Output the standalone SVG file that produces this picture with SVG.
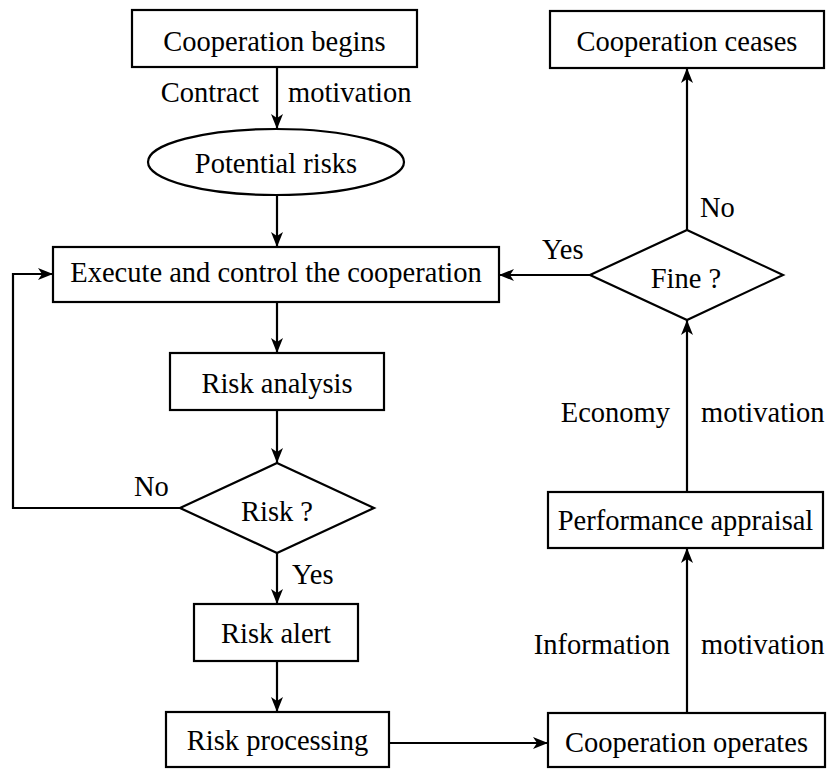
<svg xmlns="http://www.w3.org/2000/svg" width="827" height="769" viewBox="0 0 827 769">
  <style>
    .box { fill: #fff; stroke: #000; stroke-width: 2.2; }
    .lbl { font-family: "Liberation Serif", "Times New Roman", serif; font-size: 28.5px; fill: #000; }
    .mid { text-anchor: middle; }
    .end { text-anchor: end; }
    .edge { fill: none; stroke: #000; stroke-width: 2.2; marker-end: url(#arrow); }
  </style>
  <defs>
    <marker id="arrow" markerUnits="userSpaceOnUse" markerWidth="16" markerHeight="12" refX="15" refY="6" orient="auto">
      <path d="M0,0 L15,6 L0,12 L4,6 z" fill="#000"/>
    </marker>
  </defs>
  <rect width="827" height="769" fill="#fff"/>

  <!-- connectors -->
  <g id="connectors">
    <line class="edge" x1="277" y1="67" x2="277" y2="129"/>
    <line class="edge" x1="277" y1="195" x2="277" y2="247"/>
    <line class="edge" x1="277" y1="302" x2="277" y2="353"/>
    <line class="edge" x1="277" y1="410" x2="277" y2="463"/>
    <line class="edge" x1="277" y1="553" x2="277" y2="604"/>
    <line class="edge" x1="277" y1="661" x2="277" y2="712"/>
    <polyline class="edge" points="180,508 13,508 13,274 53,274"/>
    <line class="edge" x1="389" y1="743" x2="548" y2="743"/>
    <line class="edge" x1="687" y1="713" x2="687" y2="548"/>
    <line class="edge" x1="687" y1="492" x2="687" y2="320"/>
    <line class="edge" x1="590" y1="275" x2="499" y2="275"/>
    <line class="edge" x1="687" y1="230" x2="687" y2="68"/>
    <!-- edge labels -->
    <text class="lbl end" x="259" y="102">Contract</text>
    <text class="lbl" x="288" y="102">motivation</text>
    <text class="lbl" x="134" y="496">No</text>
    <text class="lbl" x="292" y="584">Yes</text>
    <text class="lbl end" x="670" y="654">Information</text>
    <text class="lbl" x="701" y="654">motivation</text>
    <text class="lbl end" x="670" y="422">Economy</text>
    <text class="lbl" x="701" y="422">motivation</text>
    <text class="lbl" x="542" y="259">Yes</text>
    <text class="lbl" x="700" y="217">No</text>
  </g>

  <g id="cooperation-begins">
    <rect class="box" x="132" y="10" width="285" height="57"/>
    <text class="lbl mid" x="274.5" y="51">Cooperation begins</text>
  </g>
  <g id="potential-risks">
    <ellipse class="box" cx="276" cy="162" rx="128" ry="33"/>
    <text class="lbl mid" x="276" y="173">Potential risks</text>
  </g>
  <g id="execute-control">
    <rect class="box" x="53" y="247" width="446" height="55"/>
    <text class="lbl mid" x="276" y="282">Execute and control the cooperation</text>
  </g>
  <g id="risk-analysis">
    <rect class="box" x="170" y="353" width="214" height="57"/>
    <text class="lbl mid" x="277" y="393">Risk analysis</text>
  </g>
  <g id="risk-decision">
    <polygon class="box" points="277,463 374,508 277,553 180,508"/>
    <text class="lbl mid" x="277" y="521">Risk ?</text>
  </g>
  <g id="risk-alert">
    <rect class="box" x="194" y="604" width="164" height="57"/>
    <text class="lbl mid" x="276" y="643">Risk alert</text>
  </g>
  <g id="risk-processing">
    <rect class="box" x="166" y="712" width="223" height="55"/>
    <text class="lbl mid" x="277.5" y="750">Risk processing</text>
  </g>
  <g id="cooperation-operates">
    <rect class="box" x="548" y="713" width="277" height="54"/>
    <text class="lbl mid" x="686.5" y="752">Cooperation operates</text>
  </g>
  <g id="performance-appraisal">
    <rect class="box" x="548" y="492" width="275" height="56"/>
    <text class="lbl mid" x="685.5" y="530">Performance appraisal</text>
  </g>
  <g id="fine-decision">
    <polygon class="box" points="687,230 783,275 687,320 590,275"/>
    <text class="lbl mid" x="686" y="288">Fine ?</text>
  </g>
  <g id="cooperation-ceases">
    <rect class="box" x="550" y="11" width="274" height="57"/>
    <text class="lbl mid" x="687" y="51">Cooperation ceases</text>
  </g>
</svg>
